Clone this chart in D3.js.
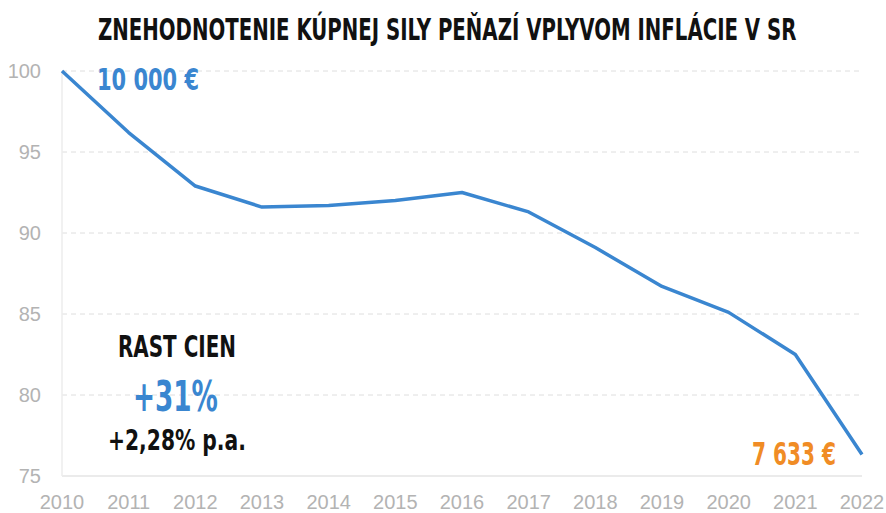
<!DOCTYPE html>
<html>
<head>
<meta charset="utf-8">
<script src="https://cdn.jsdelivr.net/npm/d3@7/dist/d3.min.js"></script>
<style>
    body { margin: 0; background: #fff; }
    svg { display: block; }
    .cond { font-family: "DejaVu Sans Condensed", "Liberation Sans Narrow", sans-serif; font-weight: bold; }
    .tick-label { font-family: "Liberation Sans", Arial, sans-serif; fill: #b3b3b3; font-size: 20px; }
</style>
</head>
<body>
<svg id="chart"></svg>
<script>
/**
 * Data.
 */
const years = [2010, 2011, 2012, 2013, 2014, 2015, 2016, 2017, 2018, 2019, 2020, 2021, 2022];
const values = [100, 96.2, 92.9, 91.6, 91.7, 92.0, 92.5, 91.3, 89.1, 86.7, 85.1, 82.5, 76.33];
const yTicks = [75, 80, 85, 90, 95, 100];
const title = 'ZNEHODNOTENIE KÚPNEJ SILY PEŇAZÍ VPLYVOM INFLÁCIE V SR';
const startLabel = '10 000 €';
const endLabel = '7 633 €';
const growthTitle = 'RAST CIEN';
const growthTotal = '+31%';
const growthYearly = '+2,28% p.a.';

/**
 * Visual configs.
 */
const visWidth = 886, visHeight = 513;
const margin = { top: 71, right: 24, bottom: 37, left: 62 };
const width = visWidth - margin.left - margin.right,
    height = visHeight - margin.top - margin.bottom;
const blue = '#3a86d0', orange = '#f08c25';

const svg = d3.select('#chart').attr('width', visWidth).attr('height', visHeight);

const xScale = d3.scaleLinear().domain([2010, 2022]).range([0, width]);
const yScale = d3.scaleLinear().domain([75, 100]).range([height, 0]);

const g = svg.append('g').attr('transform', 'translate(' + margin.left + ',' + margin.top + ')');

// Gridlines
g.selectAll('.grid').data(yTicks.filter(t => t !== 75)).enter().append('line')
    .attr('x1', 0).attr('x2', width)
    .attr('y1', d => yScale(d)).attr('y2', d => yScale(d))
    .attr('stroke', '#dedede').attr('stroke-width', 1).attr('stroke-dasharray', '5,4');

// Axes lines
g.append('line').attr('x1', 0).attr('x2', width).attr('y1', height).attr('y2', height)
    .attr('stroke', '#e4e4e4').attr('stroke-width', 1.5);
g.append('line').attr('x1', 0).attr('x2', 0).attr('y1', 0).attr('y2', height)
    .attr('stroke', '#ececec').attr('stroke-width', 1.5);

// Y axis labels
g.selectAll('.ylab').data(yTicks).enter().append('text')
    .attr('class', 'tick-label')
    .attr('x', -21).attr('y', d => yScale(d) + 7)
    .attr('text-anchor', 'end')
    .text(d => d);

// X axis labels
g.selectAll('.xlab').data(years).enter().append('text')
    .attr('class', 'tick-label')
    .attr('x', d => xScale(d)).attr('y', height + 33)
    .attr('text-anchor', 'middle')
    .text(d => d);

// Line
const line = d3.line().x((d, i) => xScale(years[i])).y(d => yScale(d));
g.append('path').datum(values)
    .attr('d', line)
    .attr('fill', 'none')
    .attr('stroke', blue)
    .attr('stroke-width', 3.5)
    .attr('stroke-linejoin', 'round');

/**
 * Condensed bold text, squeezed horizontally to the measured width.
 */
function condText(txt, x, y, size, len, color) {
    const t = svg.append('text')
        .attr('class', 'cond')
        .attr('font-size', size)
        .attr('fill', color)
        .text(txt);
    const natural = t.node().getComputedTextLength();
    t.attr('transform', 'translate(' + x + ',' + y + ') scale(' + (len / natural) + ',1)');
    return t;
}

condText(title, 98, 40, 30, 699, '#111');
condText(startLabel, 97, 90, 31, 102, blue);
condText(growthTitle, 118, 357, 30, 118, '#111');
condText(growthTotal, 133, 411, 42, 85, blue);
condText(growthYearly, 108, 450, 28, 138, '#111');
condText(endLabel, 752, 465, 32, 84, orange);
</script>
</body>
</html>
